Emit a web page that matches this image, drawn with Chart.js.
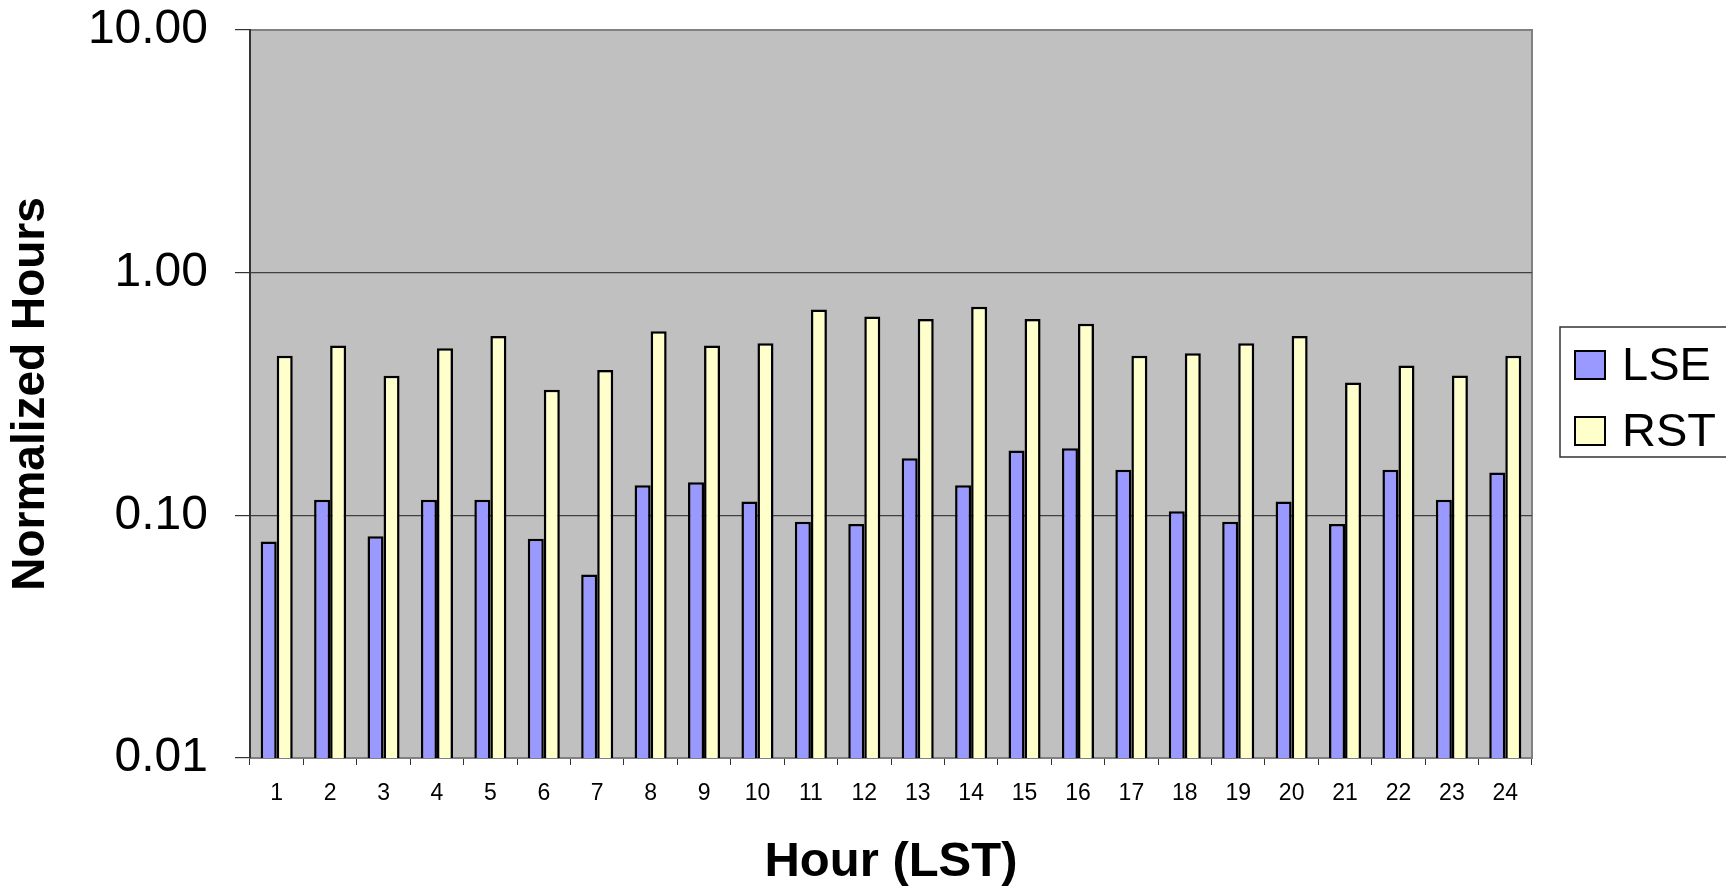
<!DOCTYPE html>
<html>
<head>
<meta charset="utf-8">
<title>Normalized Hours by Hour (LST)</title>
<script src="https://cdn.jsdelivr.net/npm/chart.js@4"></script>
<style>
    body { margin: 0; background: #ffffff; }
    #wrap { width: 1726px; height: 887px; }
</style>
</head>
<body>
<div id="wrap"><canvas id="hours-chart" width="1726" height="887"></canvas></div>
<script>
// values
const hours = ['1', '2', '3', '4', '5', '6', '7', '8', '9', '10', '11', '12',
    '13', '14', '15', '16', '17', '18', '19', '20', '21', '22', '23', '24'];
const lseValues = [0.078, 0.116, 0.082, 0.116, 0.116, 0.080, 0.057, 0.133, 0.137, 0.114, 0.094, 0.092,
    0.172, 0.133, 0.185, 0.189, 0.154, 0.104, 0.094, 0.114, 0.092, 0.154, 0.116, 0.150];
const rstValues = [0.455, 0.501, 0.376, 0.488, 0.548, 0.329, 0.397, 0.574, 0.501, 0.512, 0.705, 0.660,
    0.644, 0.724, 0.644, 0.616, 0.455, 0.466, 0.512, 0.548, 0.353, 0.414, 0.377, 0.455];
const yTicks = [0.01, 0.1, 1, 10];

const FONT = '"Liberation Sans", Arial, sans-serif';

// gray plot area with its frame
const plotBackground = {
    id: 'plotBackground',
    beforeDraw(chart) {
        const { ctx, chartArea: a } = chart;
        ctx.save();
        ctx.fillStyle = '#c0c0c0';
        ctx.fillRect(a.left, a.top, a.right - a.left, a.bottom - a.top);
        ctx.strokeStyle = '#808080';
        ctx.lineWidth = 2;
        ctx.beginPath();
        ctx.moveTo(a.left, a.top);
        ctx.lineTo(a.right, a.top);
        ctx.lineTo(a.right, a.bottom);
        ctx.stroke();
        ctx.restore();
    }
};

// boxed legend to the right of the plot
const boxedLegend = {
    id: 'boxedLegend',
    afterDraw(chart) {
        const { ctx, chartArea: a } = chart;
        const midY = (a.top + a.bottom) / 2;
        const boxLeft = a.right + 28;
        const boxTop = midY - 67;
        ctx.save();
        ctx.fillStyle = '#ffffff';
        ctx.fillRect(boxLeft, boxTop, 300, 130);
        ctx.strokeStyle = '#333333';
        ctx.lineWidth = 1.5;
        ctx.strokeRect(boxLeft, boxTop, 300, 130);

        ctx.font = '47px ' + FONT;
        ctx.textBaseline = 'middle';
        chart.data.datasets.forEach((ds, i) => {
            const cy = boxTop + 38 + i * 66;
            ctx.fillStyle = ds.backgroundColor;
            ctx.fillRect(boxLeft + 15, cy - 14, 30, 28);
            ctx.strokeStyle = '#000000';
            ctx.lineWidth = 2;
            ctx.strokeRect(boxLeft + 15, cy - 14, 30, 28);
            ctx.fillStyle = '#000000';
            ctx.fillText(ds.label, boxLeft + 62, cy + 2);
        });
        ctx.restore();
    }
};

const ctx = document.getElementById('hours-chart').getContext('2d');

new Chart(ctx, {
    type: 'bar',
    data: {
        labels: hours,
        datasets: [
            {
                label: 'LSE',
                data: lseValues,
                backgroundColor: '#9999ff',
                borderColor: '#000000',
                borderWidth: 2.5,
                categoryPercentage: 0.6,
                barPercentage: 1.0
            },
            {
                label: 'RST',
                data: rstValues,
                backgroundColor: '#ffffcc',
                borderColor: '#000000',
                borderWidth: 2.5,
                categoryPercentage: 0.6,
                barPercentage: 1.0
            }
        ]
    },
    options: {
        responsive: false,
        animation: false,
        layout: {
            padding: { left: 0, right: 194, top: 30, bottom: 0 }
        },
        scales: {
            x: {
                afterFit: (scale) => { scale.height = 129; },
                grid: {
                    offset: true,
                    drawOnChartArea: false,
                    tickLength: 7,
                    tickColor: '#333333'
                },
                border: { color: '#808080', width: 2 },
                ticks: {
                    color: '#000000',
                    font: { family: FONT, size: 23 },
                    padding: 15,
                    maxRotation: 0,
                    autoSkip: false
                },
                title: {
                    display: true,
                    text: 'Hour (LST)',
                    color: '#000000',
                    font: { family: FONT, size: 49, weight: 'bold', lineHeight: 1.0 },
                    padding: 0
                }
            },
            y: {
                type: 'logarithmic',
                min: 0.01,
                max: 10,
                afterFit: (scale) => {
                    scale.width = 250;
                    scale.paddingTop = 0;
                    scale.paddingBottom = 0;
                },
                afterBuildTicks: (scale) => {
                    scale.ticks = yTicks.map(v => ({ value: v }));
                },
                grid: {
                    color: (c) => {
                        const v = c.tick ? c.tick.value : null;
                        if (v === 10) return '#808080';
                        if (v === 0.01) return 'rgba(0,0,0,0)';
                        return '#404040';
                    },
                    tickColor: '#333333',
                    tickLength: 15,
                    lineWidth: 1.2
                },
                border: { color: '#333333', width: 2 },
                ticks: {
                    color: '#000000',
                    font: { family: FONT, size: 48 },
                    padding: 27,
                    callback: (v) => Number(v).toFixed(2)
                },
                title: {
                    display: true,
                    text: 'Normalized Hours',
                    color: '#000000',
                    font: { family: FONT, size: 46, weight: 'bold', lineHeight: 1.2 },
                    padding: { top: 4, bottom: 4 }
                }
            }
        },
        plugins: {
            legend: { display: false },
            tooltip: { enabled: false }
        }
    },
    plugins: [plotBackground, boxedLegend]
});
</script>
</body>
</html>
